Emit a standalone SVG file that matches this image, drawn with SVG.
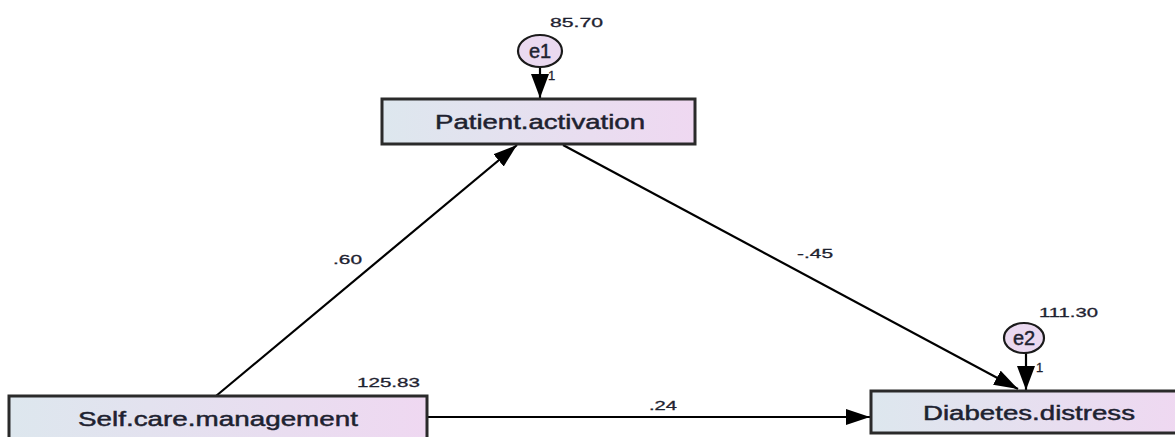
<svg xmlns="http://www.w3.org/2000/svg" width="1175" height="437" viewBox="0 0 1175 437">
<style>
.box{stroke:#2a2a2a;stroke-width:3}
.lbl{font-family:"Liberation Sans",Arial,sans-serif;fill:#1e2230;stroke:#1e2230;stroke-width:0.45}
.node{font-size:20px}
.num{font-size:13px;stroke-width:0.3}
.conn{stroke:#000;stroke-width:2.2;fill:none}
.err{fill:#ead9f0;stroke:#1a1a1a;stroke-width:2.2}
</style>
<defs>
<linearGradient id="g" x1="0" y1="0" x2="1" y2="0">
<stop offset="0" stop-color="#dde7ee"/>
<stop offset="1" stop-color="#efd8f1"/>
</linearGradient>
<marker id="ah" viewBox="0 0 24 16" refX="24" refY="8" markerWidth="24" markerHeight="16" markerUnits="userSpaceOnUse" orient="auto">
<path d="M0,0 L24,8 L0,16 z" fill="#000"/>
</marker>
<marker id="ahv" viewBox="0 0 24 18" refX="24" refY="9" markerWidth="24" markerHeight="18" markerUnits="userSpaceOnUse" orient="auto">
<path d="M0,0 L24,9 L0,18 z" fill="#000"/>
</marker>
</defs>
<rect width="1175" height="437" fill="#fff"/>
<g id="connectors">
<line class="conn" x1="216" y1="396" x2="517" y2="145" marker-end="url(#ah)"/>
<line class="conn" x1="563" y1="145" x2="1018" y2="389" marker-end="url(#ah)"/>
<line class="conn" x1="428" y1="417" x2="870" y2="417" marker-end="url(#ah)"/>
<line class="conn" x1="540" y1="67" x2="540" y2="98" marker-end="url(#ahv)"/>
<line class="conn" x1="1026" y1="353" x2="1026" y2="390" marker-end="url(#ahv)"/>
<text class="lbl num" x="333" y="264" textLength="29" lengthAdjust="spacingAndGlyphs">.60</text>
<text class="lbl num" x="797" y="258" textLength="36" lengthAdjust="spacingAndGlyphs">-.45</text>
<text class="lbl num" x="649" y="410" textLength="28" lengthAdjust="spacingAndGlyphs">.24</text>
<text class="lbl num" x="548" y="80">1</text>
<text class="lbl num" x="1036" y="372">1</text>
</g>
<g id="e1">
<ellipse class="err" cx="540" cy="51" rx="22" ry="16"/>
<text class="lbl" font-size="20" x="540" y="58" text-anchor="middle">e1</text>
<text class="lbl num" x="550" y="27" textLength="53" lengthAdjust="spacingAndGlyphs">85.70</text>
</g>
<g id="e2">
<ellipse class="err" cx="1024" cy="338" rx="20" ry="15"/>
<text class="lbl" font-size="20" x="1024" y="345" text-anchor="middle">e2</text>
<text class="lbl num" x="1039" y="317" textLength="59" lengthAdjust="spacingAndGlyphs">111.30</text>
</g>
<g id="patient-activation">
<rect class="box" x="382" y="99" width="313" height="45" fill="url(#g)"/>
<text class="lbl node" x="435" y="129" textLength="210" lengthAdjust="spacingAndGlyphs">Patient.activation</text>
</g>
<g id="self-care-management">
<rect class="box" x="9" y="396" width="418" height="50" fill="url(#g)"/>
<text class="lbl node" x="78" y="426" textLength="280" lengthAdjust="spacingAndGlyphs">Self.care.management</text>
<text class="lbl num" x="357" y="387" textLength="63" lengthAdjust="spacingAndGlyphs">125.83</text>
</g>
<g id="diabetes-distress">
<rect class="box" x="871" y="391" width="310" height="42" fill="url(#g)"/>
<text class="lbl node" x="923" y="420" textLength="212" lengthAdjust="spacingAndGlyphs">Diabetes.distress</text>
</g>
</svg>
